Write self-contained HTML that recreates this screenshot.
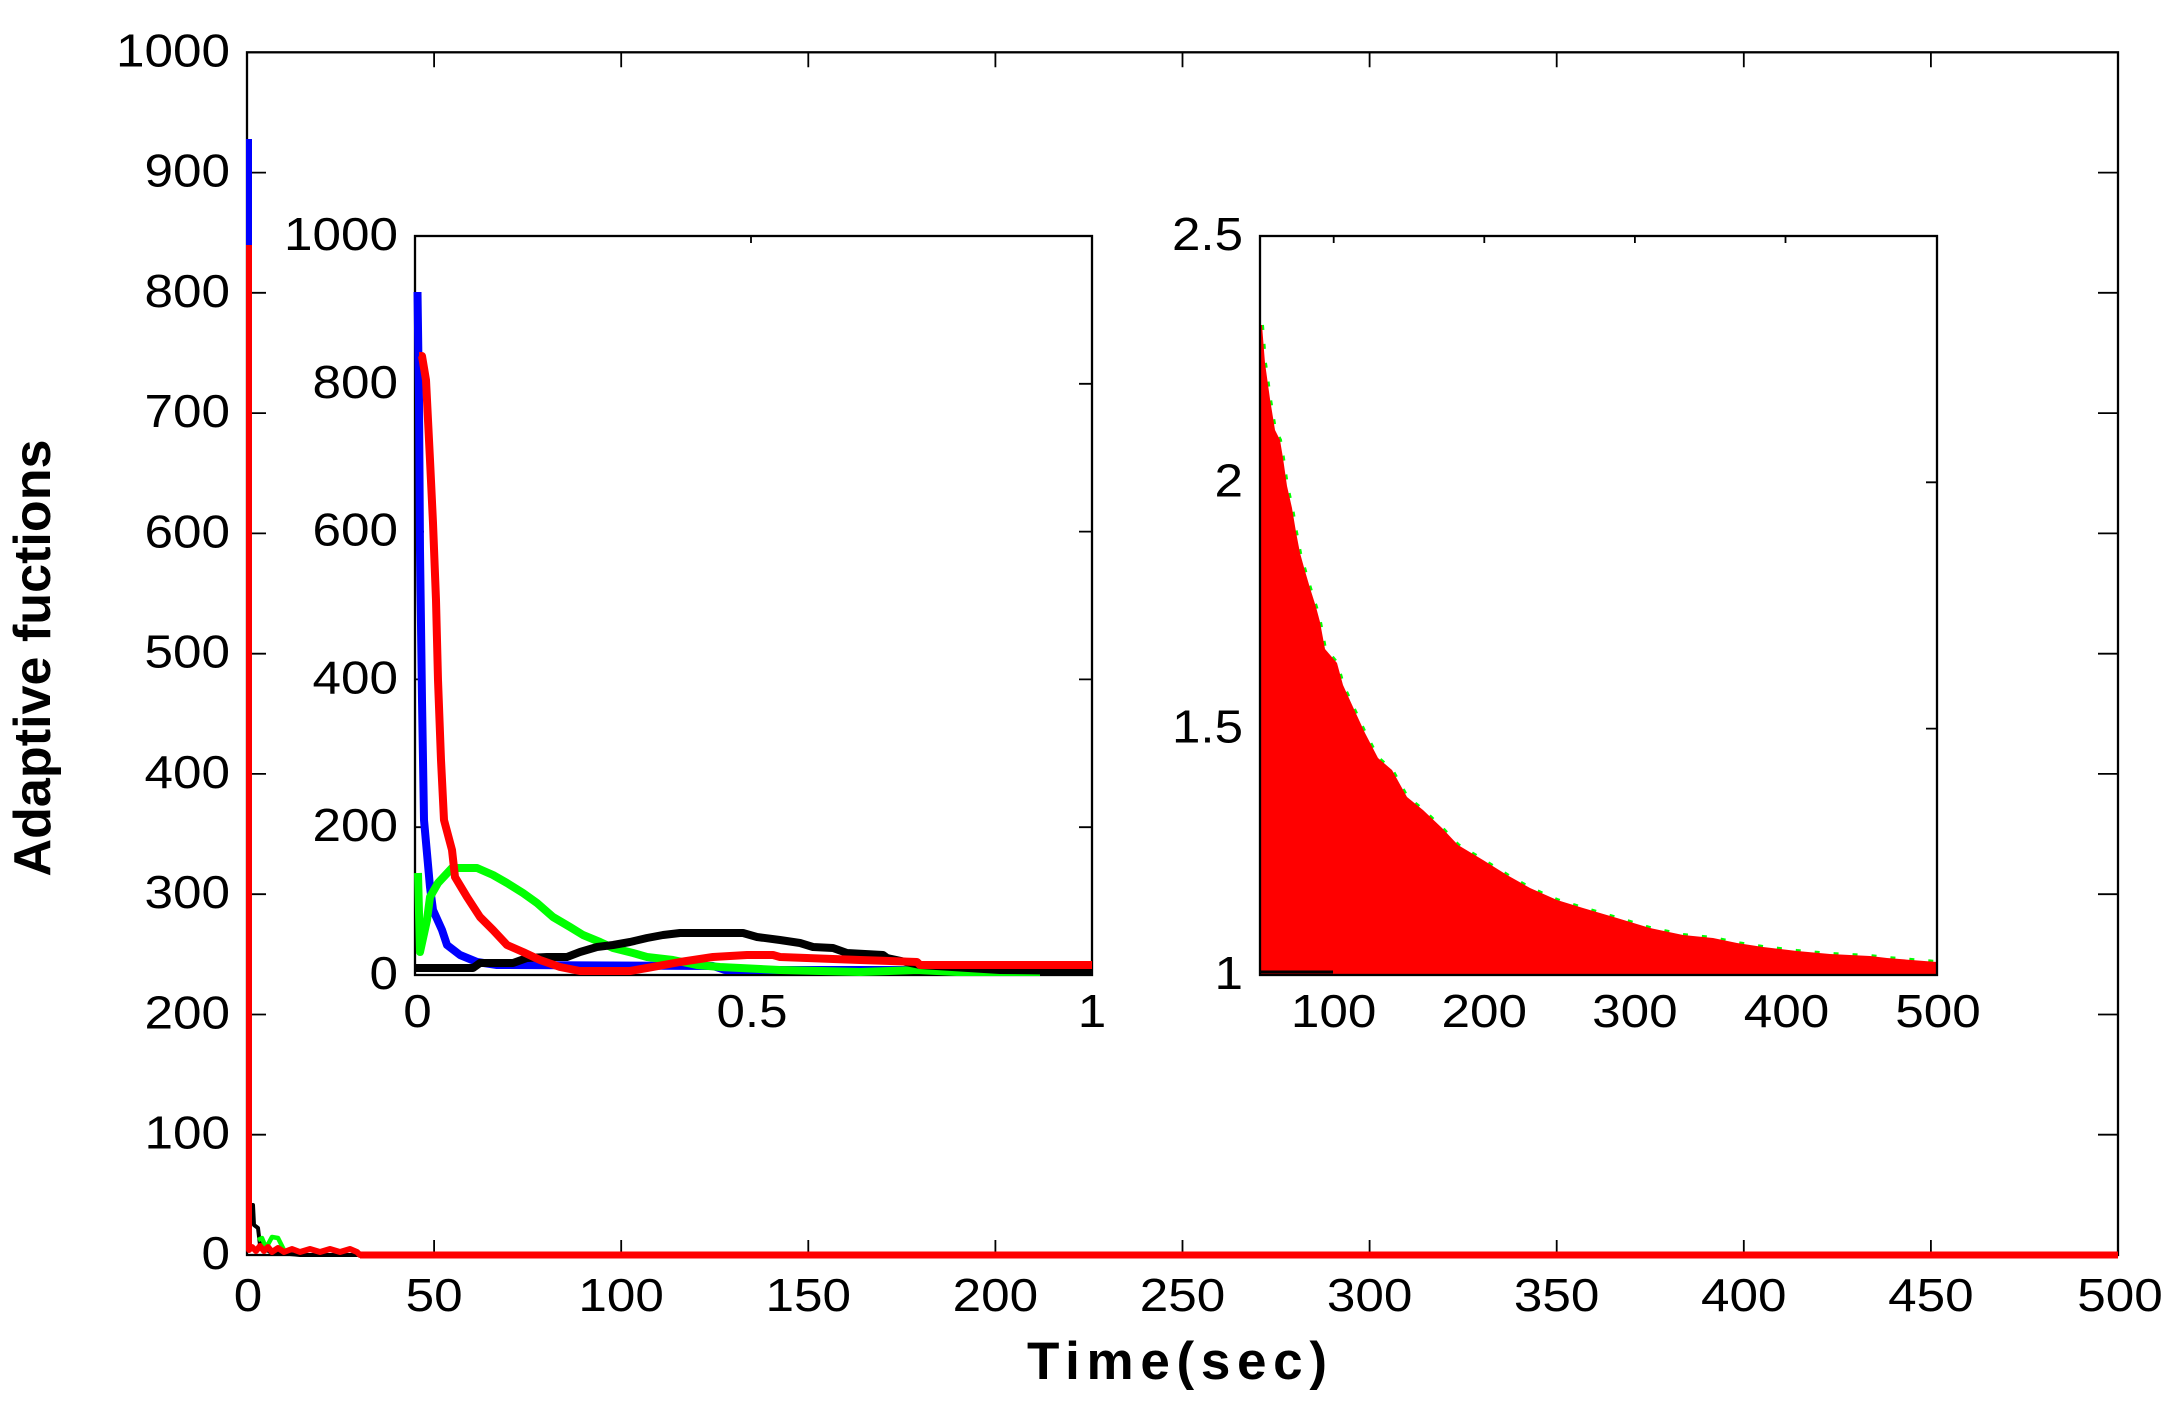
<!DOCTYPE html>
<html>
<head>
<meta charset="utf-8">
<style>
html,body{margin:0;padding:0;background:#fff;}
svg{display:block;}
text{font-family:"Liberation Sans",Arial,Helvetica,sans-serif;fill:#000;}
</style>
</head>
<body>
<svg width="2182" height="1415" viewBox="0 0 2182 1415" xmlns="http://www.w3.org/2000/svg">
<rect x="0" y="0" width="2182" height="1415" fill="#fff"/>

<!-- Main axes frame -->
<rect x="247" y="52.3" width="1871" height="1202.7" fill="#fff" stroke="#000" stroke-width="2.3"/>

<!-- Main ticks -->
<g stroke="#000" stroke-width="1.8">
  <path d="M247 1134.7h19M247 1014.5h19M247 894.2h19M247 773.9h19M247 653.7h19M247 533.4h19M247 413.1h19M247 292.8h19M247 172.6h19"/>
  <path d="M2118 1134.7h-20M2118 1014.5h-20M2118 894.2h-20M2118 773.9h-20M2118 653.7h-20M2118 533.4h-20M2118 413.1h-20M2118 292.8h-20M2118 172.6h-20"/>
  <path d="M434.1 52.3v15M621.2 52.3v15M808.3 52.3v15M995.4 52.3v15M1182.5 52.3v15M1369.6 52.3v15M1556.7 52.3v15M1743.8 52.3v15M1930.9 52.3v15"/>
  <path d="M434.1 1255v-15M621.2 1255v-15M808.3 1255v-15M995.4 1255v-15M1182.5 1255v-15M1369.6 1255v-15M1556.7 1255v-15M1743.8 1255v-15M1930.9 1255v-15"/>
</g>

<!-- Main series -->
<g fill="none" stroke-linejoin="round">
  <polyline stroke="#0000ff" stroke-width="6" points="249,139 249,1250"/>
  <polyline stroke="#000" stroke-width="4" points="250,1205 253,1205 254,1225 258,1228 260,1245 270,1252 300,1255 2118,1255"/>
  <polyline stroke="#00ff00" stroke-width="4.5" points="258,1240 262,1238 266,1248 272,1237 278,1238 284,1250"/>
  <polyline stroke="#ff0000" stroke-width="6" points="249,245 249,1250 252,1247 256,1251 260,1246 264,1251 268,1247 272,1252 278,1248 284,1252 292,1249 300,1252 310,1249 320,1252 330,1249 340,1252 350,1249 357,1252 360,1255 2118,1255"/>
  <polyline stroke="#ff0000" stroke-width="7" points="360,1255 2118,1255"/>
</g>

<!-- Main y tick labels -->
<g font-size="46" text-anchor="end">
  <text x="230" y="1269" textLength="28.5" lengthAdjust="spacingAndGlyphs">0</text>
  <text x="230" y="1148.7" textLength="85.5" lengthAdjust="spacingAndGlyphs">100</text>
  <text x="230" y="1028.5" textLength="85.5" lengthAdjust="spacingAndGlyphs">200</text>
  <text x="230" y="908.2" textLength="85.5" lengthAdjust="spacingAndGlyphs">300</text>
  <text x="230" y="787.9" textLength="85.5" lengthAdjust="spacingAndGlyphs">400</text>
  <text x="230" y="667.7" textLength="85.5" lengthAdjust="spacingAndGlyphs">500</text>
  <text x="230" y="547.4" textLength="85.5" lengthAdjust="spacingAndGlyphs">600</text>
  <text x="230" y="427.1" textLength="85.5" lengthAdjust="spacingAndGlyphs">700</text>
  <text x="230" y="306.8" textLength="85.5" lengthAdjust="spacingAndGlyphs">800</text>
  <text x="230" y="186.6" textLength="85.5" lengthAdjust="spacingAndGlyphs">900</text>
  <text x="230" y="66.3" textLength="114" lengthAdjust="spacingAndGlyphs">1000</text>
</g>

<!-- Main x tick labels -->
<g font-size="46" text-anchor="middle">
  <text x="248" y="1311" textLength="28.5" lengthAdjust="spacingAndGlyphs">0</text>
  <text x="434.1" y="1311" textLength="57" lengthAdjust="spacingAndGlyphs">50</text>
  <text x="621.2" y="1311" textLength="85.5" lengthAdjust="spacingAndGlyphs">100</text>
  <text x="808.3" y="1311" textLength="85.5" lengthAdjust="spacingAndGlyphs">150</text>
  <text x="995.4" y="1311" textLength="85.5" lengthAdjust="spacingAndGlyphs">200</text>
  <text x="1182.5" y="1311" textLength="85.5" lengthAdjust="spacingAndGlyphs">250</text>
  <text x="1369.6" y="1311" textLength="85.5" lengthAdjust="spacingAndGlyphs">300</text>
  <text x="1556.7" y="1311" textLength="85.5" lengthAdjust="spacingAndGlyphs">350</text>
  <text x="1743.8" y="1311" textLength="85.5" lengthAdjust="spacingAndGlyphs">400</text>
  <text x="1930.9" y="1311" textLength="85.5" lengthAdjust="spacingAndGlyphs">450</text>
  <text x="2120" y="1311" textLength="85.5" lengthAdjust="spacingAndGlyphs">500</text>
</g>

<!-- Axis titles -->
<text x="1027" y="1379" font-size="53" font-weight="bold" textLength="300" lengthAdjust="spacing">Time(sec)</text>
<text transform="translate(50,658) rotate(-90)" text-anchor="middle" font-size="52" font-weight="bold" textLength="437" lengthAdjust="spacingAndGlyphs">Adaptive fuctions</text>

<!-- ================= Inset 1 ================= -->
<rect x="415" y="236" width="677" height="739" fill="#fff" stroke="#000" stroke-width="2.3"/>
<g stroke="#000" stroke-width="1.8">
  <path d="M415 827.2h9M415 679.4h9M415 531.6h9M415 383.8h9"/>
  <path d="M1092 827.2h-13M1092 679.4h-13M1092 531.6h-13M1092 383.8h-13"/>
  <path d="M751 236v7"/>
</g>
<g fill="none" stroke-width="8" stroke-linejoin="round" stroke-linecap="butt">
  <polyline stroke="#0000ff" points="417.5,292 419,400 420,550 422,700 424,820 430,887 433,910 442,930 447,945 460,955 477,962 497,965 713,966 725,970 1092,970"/>
  <polyline stroke="#00ff00" points="418,873 420,952 427,920 430,897 438,883 452,868 477,868 493,875 507,883 523,893 537,903 553,917 570,927 583,935 600,942 613,948 633,953 647,957 673,960 697,965 720,967 780,970 860,972 917,970 957,972 1040,972"/>
  <polyline stroke="#000000" points="415,968 473,968 480,963 513,963 527,958 547,957 567,957 580,952 597,947 613,945 630,942 647,938 663,935 680,933 743,933 757,937 780,940 800,943 813,947 833,948 847,953 883,955 887,958 920,965 1000,970 1092,971"/>
  <polyline stroke="#ff0000" points="419,356 422,356 426,380 430,460 433,523 436,600 438,680 441,760 444,820 452,850 455,877 467,897 480,917 493,930 507,945 523,952 540,960 560,967 580,971 630,971 647,968 680,962 713,957 747,955 773,955 780,957 860,960 917,962 920,965 1092,965"/>
</g>
<g font-size="46" text-anchor="end">
  <text x="398" y="989" textLength="28.5" lengthAdjust="spacingAndGlyphs">0</text>
  <text x="398" y="841.2" textLength="85.5" lengthAdjust="spacingAndGlyphs">200</text>
  <text x="398" y="693.4" textLength="85.5" lengthAdjust="spacingAndGlyphs">400</text>
  <text x="398" y="545.6" textLength="85.5" lengthAdjust="spacingAndGlyphs">600</text>
  <text x="398" y="397.8" textLength="85.5" lengthAdjust="spacingAndGlyphs">800</text>
  <text x="398" y="250" textLength="114" lengthAdjust="spacingAndGlyphs">1000</text>
</g>
<g font-size="46" text-anchor="middle">
  <text x="417.5" y="1027" textLength="28.5" lengthAdjust="spacingAndGlyphs">0</text>
  <text x="752" y="1027" textLength="71" lengthAdjust="spacingAndGlyphs">0.5</text>
  <text x="1092" y="1027" textLength="28.5" lengthAdjust="spacingAndGlyphs">1</text>
</g>

<!-- ================= Inset 2 ================= -->
<rect x="1260" y="236" width="677" height="739" fill="#fff" stroke="none"/>
<polyline fill="none" stroke="#00ff00" stroke-width="4" stroke-dasharray="5 14" points="1262,325 1265,363 1270,399 1275,430 1280,440 1283,458 1287,486 1292,508 1296,532 1300,553 1305,571 1310,588 1316,607 1320,622 1325,649 1337,663 1343,685 1353,707 1365,733 1378,758 1392,770 1407,797 1423,810 1442,828 1458,845 1483,860 1507,875 1530,888 1557,900 1583,908 1617,918 1650,928 1683,935 1713,938 1737,943 1763,947 1797,951 1830,954 1870,956 1887,958 1937,962"/>
<polygon fill="#ff0000" points="1260,325 1262,325 1265,363 1270,399 1275,430 1280,440 1283,458 1287,486 1292,508 1296,532 1300,553 1305,571 1310,588 1316,607 1320,622 1325,649 1337,663 1343,685 1353,707 1365,733 1378,758 1392,770 1407,797 1423,810 1442,828 1458,845 1483,860 1507,875 1530,888 1557,900 1583,908 1617,918 1650,928 1683,935 1713,938 1737,943 1763,947 1797,951 1830,954 1870,956 1887,958 1937,962 1937,975 1260,975"/>
<polyline fill="none" stroke="#000" stroke-width="3" points="1261,972 1333,972"/>
<rect x="1260" y="236" width="677" height="739" fill="none" stroke="#000" stroke-width="2.3"/>
<g stroke="#000" stroke-width="1.8">
  <path d="M1333.7 236v7M1484.3 236v7M1634.9 236v7M1785.5 236v7"/>
  <path d="M1937 728.6h-11M1937 482.3h-11"/>
</g>
<g font-size="46" text-anchor="end">
  <text x="1243" y="250" textLength="71" lengthAdjust="spacingAndGlyphs">2.5</text>
  <text x="1243" y="496.3" textLength="28.5" lengthAdjust="spacingAndGlyphs">2</text>
  <text x="1243" y="742.6" textLength="71" lengthAdjust="spacingAndGlyphs">1.5</text>
  <text x="1243" y="989" textLength="28.5" lengthAdjust="spacingAndGlyphs">1</text>
</g>
<g font-size="46" text-anchor="middle">
  <text x="1333.7" y="1027" textLength="85.5" lengthAdjust="spacingAndGlyphs">100</text>
  <text x="1484.3" y="1027" textLength="85.5" lengthAdjust="spacingAndGlyphs">200</text>
  <text x="1634.9" y="1027" textLength="85.5" lengthAdjust="spacingAndGlyphs">300</text>
  <text x="1786.5" y="1027" textLength="85.5" lengthAdjust="spacingAndGlyphs">400</text>
  <text x="1938" y="1027" textLength="85.5" lengthAdjust="spacingAndGlyphs">500</text>
</g>
</svg>
</body>
</html>
